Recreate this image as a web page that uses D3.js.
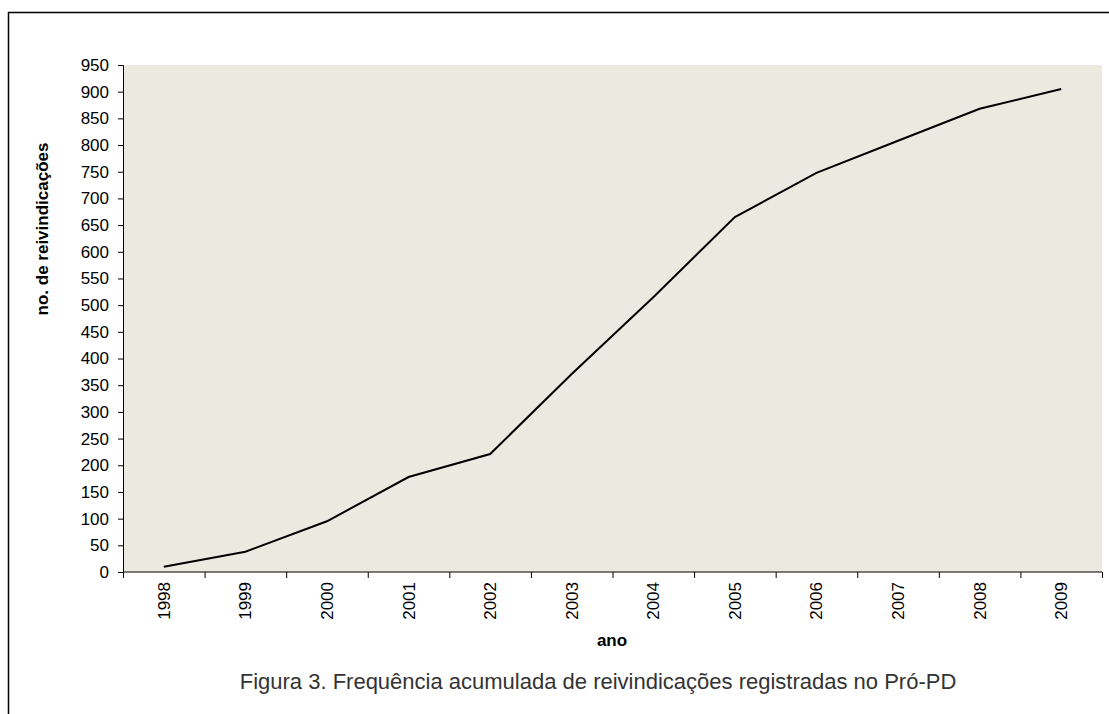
<!DOCTYPE html>
<html>
<head>
<meta charset="utf-8">
<script src="https://cdn.jsdelivr.net/npm/d3@7"></script>
<style>
  body { margin: 0; background: #fff; }
  text { font-family: "Liberation Sans", Arial, sans-serif; }
</style>
</head>
<body>
<div id="chart"></div>
<script>
"use strict";

var years = ["1998", "1999", "2000", "2001", "2002", "2003",
             "2004", "2005", "2006", "2007", "2008", "2009"];
var cumulative = [10, 38, 95, 178, 221, 371, 515, 665, 748, 808, 868, 905];
var yTicks = d3.range(0, 951, 50);

var width = 1109,
    height = 714,
    margin = { top: 65, right: 7, bottom: 142, left: 123 };

var svg = d3.select("#chart").append("svg")
    .attr("width", width)
    .attr("height", height);

// outer frame (runs off the right and bottom edge)
svg.append("rect")
    .attr("x", 8.5).attr("y", 12.5)
    .attr("width", width).attr("height", height)
    .attr("fill", "none").attr("stroke", "#000").attr("stroke-width", 1.5);

var x = d3.scaleBand()
    .domain(years)
    .range([margin.left, width - margin.right]);

var y = d3.scaleLinear()
    .domain([0, 950])
    .range([height - margin.bottom, margin.top]);

svg.append("rect")
    .attr("x", margin.left)
    .attr("y", margin.top)
    .attr("width", width - margin.right - margin.left)
    .attr("height", height - margin.bottom - margin.top)
    .attr("fill", "#ECEAE0");

// y axis
var yAxis = svg.append("g")
    .attr("transform", "translate(" + margin.left + ",0)")
    .call(d3.axisLeft(y).tickValues(yTicks).tickSize(5).tickPadding(9));
yAxis.selectAll("text").attr("font-size", 17).attr("fill", "#000")
    .style("font-family", "Liberation Sans, Arial, sans-serif");
yAxis.selectAll("line").attr("stroke", "#000");
yAxis.select(".domain").attr("stroke", "#000");

// x axis: ticks on category boundaries
var xg = svg.append("g")
    .attr("transform", "translate(0," + (height - margin.bottom) + ")");
xg.append("line")
    .attr("x1", margin.left).attr("x2", width - margin.right)
    .attr("stroke", "#000");
xg.selectAll(".tick")
    .data(years)
    .join("line")
    .attr("class", "tick")
    .attr("x1", d => x(d) + x.bandwidth() + 0.5)
    .attr("x2", d => x(d) + x.bandwidth() + 0.5)
    .attr("y1", 0).attr("y2", 6)
    .attr("stroke", "#000");
xg.append("line")
    .attr("x1", margin.left + 0.5).attr("x2", margin.left + 0.5)
    .attr("y1", 0).attr("y2", 6).attr("stroke", "#000");
xg.selectAll(".lbl")
    .data(years)
    .join("text")
    .attr("class", "lbl")
    .attr("transform", d => "translate(" + (x(d) + x.bandwidth() / 2 + 6) + ",10) rotate(-90)")
    .attr("text-anchor", "end")
    .attr("font-size", 17)
    .text(d => d);

// line
var line = d3.line()
    .x((d, i) => x(years[i]) + x.bandwidth() / 2)
    .y(d => y(d));

svg.append("path")
    .datum(cumulative)
    .attr("d", line)
    .attr("fill", "none")
    .attr("stroke", "#000")
    .attr("stroke-width", 2);

// titles
svg.append("text")
    .attr("transform", "translate(48,229) rotate(-90)")
    .attr("text-anchor", "middle")
    .attr("font-size", 17)
    .attr("font-weight", "bold")
    .text("no. de reivindicações");

svg.append("text")
    .attr("x", 612).attr("y", 646)
    .attr("text-anchor", "middle")
    .attr("font-size", 17)
    .attr("font-weight", "bold")
    .text("ano");

svg.append("text")
    .attr("x", 598).attr("y", 689)
    .attr("text-anchor", "middle")
    .attr("font-size", 22)
    .attr("fill", "#333")
    .text("Figura 3. Frequência acumulada de reivindicações registradas no Pró-PD");
</script>
</body>
</html>
